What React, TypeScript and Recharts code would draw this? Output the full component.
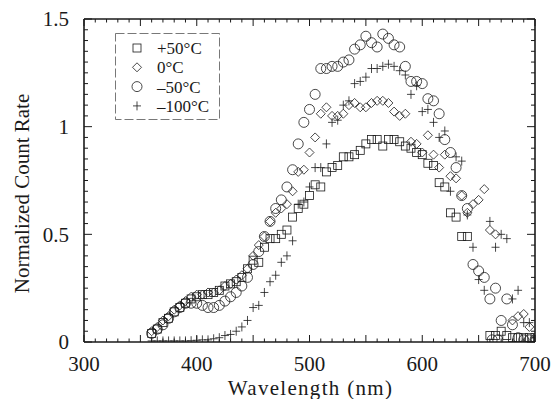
import React from 'react';
import { ScatterChart, Scatter, XAxis, YAxis, Legend, ReferenceLine } from 'recharts';

const FONT = 'Liberation Serif, Tinos, Times New Roman, serif';
const INK = '#1a1a1a';

/* ---------------------------------------------------------------------------
   Data — normalized count rate vs. wavelength (nm)
   --------------------------------------------------------------------------- */

const WL_SQUARE = [
  360, 365, 370, 375, 380, 385, 390, 395, 400, 405, 410, 415, 420, 425, 430,
  435, 440, 445, 450, 455, 460, 465, 470, 475, 480, 485, 490, 495, 500, 505,
  510, 515, 520, 525, 530, 535, 540, 545, 550, 555, 560, 565, 570, 575, 580,
  585, 590, 595, 600, 605, 610, 615, 620, 625, 630, 635, 640,
  660, 665, 670, 675, 680, 685, 690, 695, 700,
];
const RATE_P50 = [
  0.04, 0.06, 0.09, 0.11, 0.14, 0.16, 0.18, 0.20, 0.21, 0.22, 0.22, 0.23, 0.24, 0.26, 0.27,
  0.28, 0.30, 0.34, 0.38, 0.37, 0.44, 0.48, 0.48, 0.50, 0.52, 0.58, 0.62, 0.64, 0.68, 0.73,
  0.72, 0.79, 0.81, 0.82, 0.86, 0.86, 0.87, 0.89, 0.92, 0.94, 0.94, 0.91, 0.94, 0.94, 0.93,
  0.91, 0.90, 0.88, 0.87, 0.83, 0.82, 0.74, 0.72, 0.60, 0.58, 0.49, 0.49,
  0.03, 0.03, 0.05, 0.03, 0.02, 0.02, 0.02, 0.02, 0.02,
];

const WL_DIAMOND = [
  360, 365, 370, 375, 380, 385, 390, 395, 400, 405, 410, 415, 420, 425, 430,
  435, 440, 445, 450, 455, 460, 465, 470, 475, 480, 485, 490, 495, 500, 505,
  510, 515, 520, 525, 530, 535, 540, 545, 550, 555, 560, 565, 570, 575, 580,
  585, 590, 595, 600, 605, 610, 615, 620, 625, 630, 635, 640, 645, 650, 655,
  660, 665, 680, 685, 690, 695, 700,
];
const RATE_0 = [
  0.05, 0.07, 0.10, 0.12, 0.15, 0.17, 0.19, 0.21, 0.22, 0.22, 0.23, 0.23, 0.24, 0.26, 0.27,
  0.29, 0.31, 0.34, 0.40, 0.45, 0.49, 0.56, 0.60, 0.62, 0.64, 0.70, 0.79, 0.80, 0.88, 0.95,
  1.06, 1.09, 1.05, 1.05, 1.06, 1.10, 1.11, 1.09, 1.09, 1.11, 1.12, 1.12, 1.11, 1.07, 1.05,
  1.06, 0.93, 0.92, 0.88, 0.96, 0.87, 0.81, 0.87, 0.77, 0.76, 0.68, 0.60, 0.64, 0.66, 0.71,
  0.52, 0.50, 0.10, 0.12, 0.13, 0.07, 0.01,
];

const WL_CIRCLE = [
  360, 365, 370, 375, 380, 385, 390, 395, 400, 405, 410, 415, 420, 425, 430,
  435, 440, 445, 450, 455, 460, 465, 470, 475, 480, 485, 490, 495, 500, 505,
  510, 515, 520, 525, 530, 535, 540, 545, 550, 555, 560, 565, 570, 575, 580,
  585, 590, 595, 600, 605, 610, 615, 620, 625, 630, 635, 640, 645, 650, 655,
  660, 665, 670, 675, 680, 685, 690, 695, 700, 662, 667,
];
const RATE_M50 = [
  0.04, 0.06, 0.08, 0.11, 0.14, 0.16, 0.18, 0.18, 0.18, 0.17, 0.16, 0.16, 0.17, 0.19, 0.21,
  0.23, 0.26, 0.30, 0.36, 0.42, 0.49, 0.56, 0.62, 0.66, 0.72, 0.80, 0.92, 1.02, 1.08, 1.15,
  1.27, 1.27, 1.28, 1.28, 1.30, 1.31, 1.36, 1.38, 1.42, 1.39, 1.37, 1.43, 1.41, 1.38, 1.37,
  1.28, 1.21, 1.21, 1.20, 1.13, 1.12, 1.06, 0.94, 0.88, 0.81, 0.68, 0.62, 0.36, 0.33, 0.30,
  0.20, 0.25, 0.10, 0.20, 0.08, 0.02, 0.01, 0.01, 0.01, 0.01, 0.01,
];

const WL_PLUS = [
  360, 365, 370, 375, 380, 385, 390, 395, 400, 405, 410, 415, 420, 425, 430,
  435, 440, 445, 450, 455, 460, 465, 470, 475, 480, 485, 490, 495, 500, 505,
  510, 515, 520, 525, 530, 535, 540, 545, 550, 555, 560, 565, 570, 575, 580,
  585, 590, 595, 600, 605, 610, 615, 620, 625, 630, 635, 640, 645, 650, 655,
  660, 665, 670, 675, 680, 685, 690, 695, 700,
];
const RATE_M100 = [
  0.005, 0.005, 0.005, 0.005, 0.005, 0.005, 0.005, 0.006, 0.008, 0.01, 0.01, 0.015, 0.02, 0.03, 0.035,
  0.05, 0.07, 0.10, 0.16, 0.17, 0.23, 0.28, 0.31, 0.37, 0.40, 0.47, 0.64, 0.65, 0.72, 0.81,
  0.81, 0.92, 1.02, 1.03, 1.10, 1.12, 1.20, 1.21, 1.23, 1.27, 1.27, 1.28, 1.29, 1.28, 1.26,
  1.24, 1.15, 1.19, 1.07, 1.08, 1.02, 0.95, 0.98, 0.70, 0.86, 0.84, 0.59, 0.44, 0.29, 0.24,
  0.56, 0.44, 0.50, 0.48, 0.20, 0.24, 0.09, 0.09, 0.02,
];

const X_LABELS = [300, 400, 500, 600, 700];
const X_TICKS = Array.from({ length: 41 }, (_, i) => 300 + i * 10);
const Y_LABELS = [0, 0.5, 1, 1.5];
const Y_TICKS = Array.from({ length: 31 }, (_, i) => +(i * 0.05).toFixed(2));

const X_TITLE = 'Wavelength (nm)';
const Y_TITLE = 'Normalized Count Rate';

type Kind = 'square' | 'diamond' | 'circle' | 'plus';

const zip = (xs: number[], ys: number[]) => xs.map((x, i) => ({ x, y: ys[i] }));

const SERIES: { name: string; kind: Kind; data: { x: number; y: number }[] }[] = [
  { name: '+50°C', kind: 'square', data: zip(WL_SQUARE, RATE_P50) },
  { name: '0°C', kind: 'diamond', data: zip(WL_DIAMOND, RATE_0) },
  { name: '–50°C', kind: 'circle', data: zip(WL_CIRCLE, RATE_M50) },
  { name: '–100°C', kind: 'plus', data: zip(WL_PLUS, RATE_M100) },
];

/* ---------------------------------------------------------------------------
   Layout
   --------------------------------------------------------------------------- */

const W = 554;
const H = 399;
const MARGIN = { top: 19, right: 19, bottom: 0, left: 0 };
const X_AXIS_H = 57;
const Y_AXIS_W = 84;
const PLOT_W = W - MARGIN.right - Y_AXIS_W;
const PLOT_H = H - MARGIN.top - X_AXIS_H;
const X_TICK_GAP = 14;
const Y_TICK_GAP = 15;

/* ---------------------------------------------------------------------------
   Markers, ticks, titles
   --------------------------------------------------------------------------- */

function Marker({ kind, cx, cy }: { kind: Kind; cx: number; cy: number }) {
  const common = { fill: 'none', stroke: INK, strokeWidth: 0.8 };
  if (cx == null || cy == null) return null;
  switch (kind) {
    case 'square':
      return <rect x={cx - 4} y={cy - 4} width={8} height={8} {...common} />;
    case 'diamond':
      return <path d={`M${cx},${cy - 4.5}L${cx + 4.5},${cy}L${cx},${cy + 4.5}L${cx - 4.5},${cy}Z`} {...common} />;
    case 'circle':
      return <circle cx={cx} cy={cy} r={5} {...common} />;
    default:
      return <path d={`M${cx - 4},${cy}H${cx + 4}M${cx},${cy - 4.5}V${cy + 4.5}`} {...common} />;
  }
}

// bottom axis tick: label every 100 nm, inward marks on the bottom and top edges
function XTick({ x, y, payload }: any) {
  const v = payload.value as number;
  const len = v % 50 === 0 ? 7 : 3.5;
  const y0 = y - X_TICK_GAP;
  return (
    <g>
      <line x1={x} x2={x} y1={y0} y2={y0 - len} stroke={INK} strokeWidth={1} />
      <line x1={x} x2={x} y1={y0 - PLOT_H} y2={y0 - PLOT_H + len} stroke={INK} strokeWidth={1} />
      {X_LABELS.includes(v) && (
        <text x={x} y={y} dy="0.71em" textAnchor="middle" fontSize={21} fill={INK} style={{ fontFamily: FONT }}>{v}</text>
      )}
    </g>
  );
}

// left axis tick: label every 0.5, inward marks on the left and right edges
function YTick({ x, y, payload }: any) {
  const v = payload.value as number;
  const major = Y_LABELS.includes(v);
  const len = major ? 8 : 4;
  const x0 = x + Y_TICK_GAP;
  return (
    <g>
      <line x1={x0} x2={x0 + len} y1={y} y2={y} stroke={INK} strokeWidth={1} />
      <line x1={x0 + PLOT_W} x2={x0 + PLOT_W - len} y1={y} y2={y} stroke={INK} strokeWidth={1} />
      {major && (
        <text x={x} y={y} dy="0.355em" textAnchor="end" fontSize={21} fill={INK} style={{ fontFamily: FONT }}>{v}</text>
      )}
    </g>
  );
}

function XTitle({ viewBox }: any) {
  const { x, y, width, height } = viewBox;
  return (
    <text x={x + width / 2 + 1} y={y + height - 4} textAnchor="middle" fontSize={21} fill={INK}
      style={{ fontFamily: FONT, letterSpacing: 1.3 }}>
      {X_TITLE}
    </text>
  );
}

function YTitle({ viewBox }: any) {
  const { x, y, height } = viewBox;
  const cx = x + 22;
  const cy = y + height / 2 + 13;
  return (
    <text x={cx} y={cy} dy="0.355em" textAnchor="middle" fontSize={21} fill={INK}
      transform={`rotate(-90 ${cx} ${cy})`} style={{ fontFamily: FONT }}>
      {Y_TITLE}
    </text>
  );
}

// legend keeps the series order (recharts would sort the payload by name)
function LegendBox() {
  return (
    <svg width={105} height={87} style={{ display: 'block' }}>
      <rect x={0.5} y={0.5} width={104} height={86} fill="#fff" stroke="#555" strokeWidth={0.8} strokeDasharray="9 3" />
      {SERIES.map((s, i) => {
        const cy = 15 + i * 19.3;
        return (
          <g key={s.name}>
            <Marker kind={s.kind} cx={22} cy={cy} />
            <text x={42} y={cy + 6} style={{ fontFamily: FONT }} fontSize={17} fill={INK}>{s.name}</text>
          </g>
        );
      })}
    </svg>
  );
}

// invisible html text, one per family name, so the serif face is resolved before the svg paints
const FACES = ['Liberation Serif', 'Tinos', 'Times New Roman', 'serif'];

/* ---------------------------------------------------------------------------
   Chart
   --------------------------------------------------------------------------- */

export default function App() {
  const frame = { stroke: INK, strokeWidth: 1.6 };

  return (
    <div style={{ width: W, height: H, background: '#fff', position: 'relative' }}>
      <style>{'body{margin:0;background:#fff}'}</style>
      <div style={{ position: 'absolute', left: 100, top: 140, fontSize: 13, opacity: 0, pointerEvents: 'none' }}>
        {FACES.map(f => <div key={f} style={{ fontFamily: f }}>{f} 0.5</div>)}
      </div>
      <ScatterChart width={W} height={H} margin={MARGIN}>
        <XAxis
          xAxisId="x"
          type="number"
          dataKey="x"
          domain={[300, 700]}
          ticks={X_TICKS}
          interval={0}
          allowDataOverflow
          height={X_AXIS_H}
          tickLine={false}
          tickSize={0}
          tickMargin={X_TICK_GAP}
          axisLine={frame}
          tick={<XTick />}
          label={<XTitle />}
        />
        <YAxis
          yAxisId="y"
          type="number"
          dataKey="y"
          domain={[0, 1.5]}
          ticks={Y_TICKS}
          interval={0}
          allowDataOverflow
          width={Y_AXIS_W}
          tickLine={false}
          tickSize={0}
          tickMargin={Y_TICK_GAP}
          axisLine={frame}
          tick={<YTick />}
          label={<YTitle />}
        />

        {/* top and right edges of the frame */}
        <ReferenceLine xAxisId="x" yAxisId="y" y={1.5} stroke={INK} strokeWidth={1.6} />
        <ReferenceLine xAxisId="x" yAxisId="y" x={700} stroke={INK} strokeWidth={1.6} />

        {SERIES.map(s => (
          <Scatter
            key={s.name}
            name={s.name}
            data={s.data}
            xAxisId="x"
            yAxisId="y"
            isAnimationActive={false}
            shape={(p: any) => <Marker kind={s.kind} cx={p.cx} cy={p.cy} />}
          />
        ))}

        <Legend
          layout="vertical"
          align="center"
          verticalAlign="middle"
          content={<LegendBox />}
          wrapperStyle={{ left: 115, top: 33, width: 105, height: 87 }}
        />
      </ScatterChart>
    </div>
  );
}
